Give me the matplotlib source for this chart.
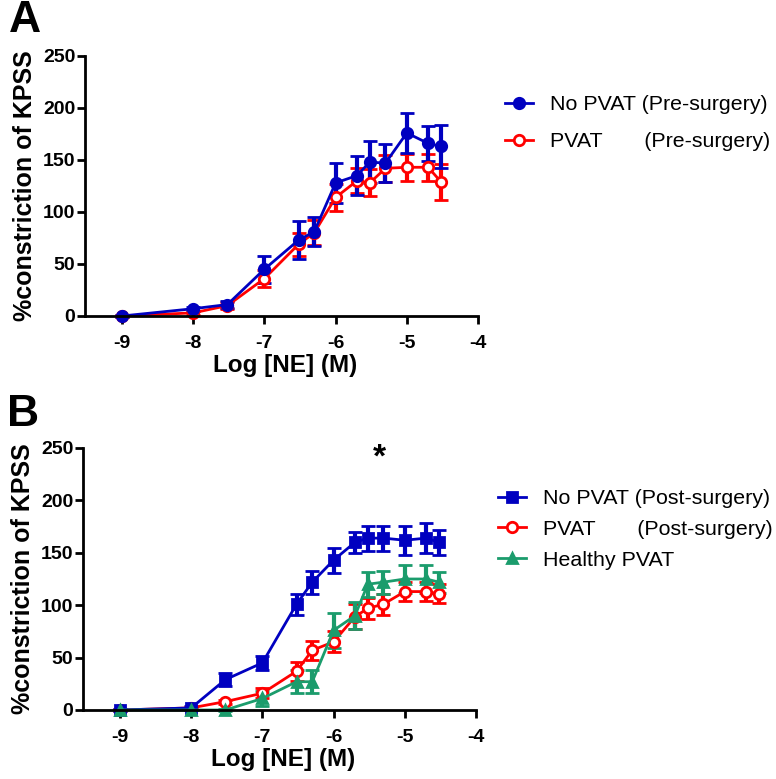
import matplotlib
matplotlib.use("Agg")
import matplotlib.pyplot as plt

plt.rcParams['font.family'] = ['Liberation Sans', 'DejaVu Sans']
plt.rcParams['axes.unicode_minus'] = False

# log concentration of norepinephrine
log_ne = [-9, -8, -7.52, -7, -6.52, -6.3, -6, -5.7, -5.52, -5.3, -5, -4.7, -4.52]

# panel A (pre-surgery)
a_nopvat = [0, 7, 11, 45, 73, 81, 128, 135, 148, 147, 176, 166, 163]
a_nopvat_err = [1, 2, 3, 13, 18, 14, 19, 19, 20, 18, 19, 17, 21]
a_pvat = [0, 3, 10, 36, 69, 80, 114, 130, 128, 142, 143, 143, 129]
a_pvat_err = [1, 2, 3, 8, 11, 12, 13, 12, 13, 13, 13, 13, 17]

# panel B (post-surgery)
b_nopvat = [0, 2, 29, 45, 101, 122, 143, 160, 164, 164, 162, 164, 160]
b_nopvat_err = [1, 2, 6, 7, 10, 11, 12, 10, 12, 12, 14, 14, 12]
b_pvat = [0, 2, 8, 16, 37, 57, 65, 89, 97, 101, 113, 113, 111]
b_pvat_err = [1, 1, 2, 5, 9, 9, 10, 12, 10, 10, 9, 9, 9]
b_healthy = [0, 0, 0, 11, 27, 27, 76, 90, 120, 122, 125, 125, 122]
b_healthy_err = [0, 0, 1, 7, 11, 11, 17, 13, 12, 11, 13, 13, 10]

x_ticks = [-9, -8, -7, -6, -5, -4]
y_ticks = [0, 50, 100, 150, 200, 250]

BLUE = '#0000C0'
RED = '#FF0000'
GREEN = '#1B9C6C'


def style_axis(ax, label_y):
    for s in ['top', 'right']:
        ax.spines[s].set_visible(False)
    for s in ['left', 'bottom']:
        ax.spines[s].set_linewidth(2)
    ax.set_xlim(-9.52, -4)
    ax.set_ylim(0, 250)
    ax.set_xticks(x_ticks)
    ax.set_yticks(y_ticks)
    ax.tick_params(width=2, length=6, labelsize=14, direction='out')
    ax.tick_params(axis='x', pad=8)
    ax.tick_params(axis='y', pad=1)
    for lab in ax.get_xticklabels() + ax.get_yticklabels():
        lab.set_fontweight('bold')
    ax.set_xlabel('Log [NE] (M)', fontsize=17.5, fontweight='bold')
    ax.xaxis.set_label_coords(0.51, label_y)
    ax.set_ylabel('%constriction of KPSS', fontsize=18, fontweight='bold', labelpad=4)


def draw(ax, y, err, color, marker, face, ms):
    c = ax.errorbar(log_ne, y, yerr=err, color=color, marker=marker, mfc=face,
                    mec=color, mew=2, ms=ms, lw=2, elinewidth=3, capsize=5, capthick=3)
    for art in c.get_children():
        art.set_clip_on(False)
    return c


fig = plt.figure(figsize=(7.76, 7.79), dpi=100)

ax_a = fig.add_axes([85 / 776, 1 - 316 / 779, 393 / 776, 260 / 779])
style_axis(ax_a, -0.145)
ca2 = draw(ax_a, a_pvat, a_pvat_err, RED, 'o', 'white', 7.5)
ca1 = draw(ax_a, a_nopvat, a_nopvat_err, BLUE, 'o', BLUE, 7.5)
fig.legend([ca1[0], ca2[0]], ['No PVAT (Pre-surgery)', 'PVAT       (Pre-surgery)'],
           loc='upper left', bbox_to_anchor=(505 / 776, 1 - 95 / 779),
           frameon=False, fontsize=15.4, borderpad=0, borderaxespad=0,
           handlelength=1.3, handletextpad=0.8, labelspacing=0.85)

ax_b = fig.add_axes([83 / 776, 1 - 710 / 779, 393 / 776, 262 / 779])
style_axis(ax_b, -0.145)
cb2 = draw(ax_b, b_pvat, b_pvat_err, RED, 'o', 'white', 7.5)
cb1 = draw(ax_b, b_nopvat, b_nopvat_err, BLUE, 's', BLUE, 6.5)
cb3 = draw(ax_b, b_healthy, b_healthy_err, GREEN, '^', GREEN, 7)
fig.legend([cb1[0], cb2[0], cb3[0]],
           ['No PVAT (Post-surgery)', 'PVAT       (Post-surgery)', 'Healthy PVAT'],
           loc='upper left', bbox_to_anchor=(498 / 776, 1 - 489 / 779),
           frameon=False, fontsize=15.4, borderpad=0, borderaxespad=0,
           handlelength=1.3, handletextpad=0.8, labelspacing=0.55)
ax_b.text(-5.35, 240, '*', fontsize=24, fontweight='bold', ha='center', va='center')

fig.text(9 / 776, 1 - 0 / 779, 'A', fontsize=32, fontweight='bold', va='top')
fig.text(7 / 776, 1 - 394 / 779, 'B', fontsize=32, fontweight='bold', va='top')

fig.savefig('out.png', dpi=100)
